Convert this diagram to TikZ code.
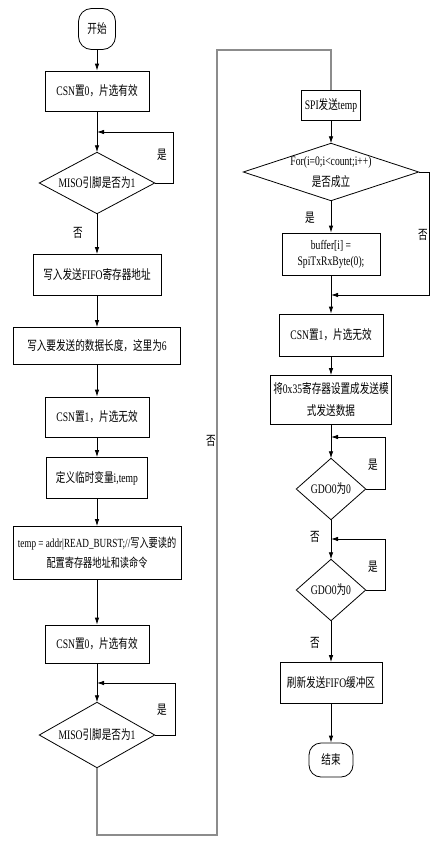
\documentclass[tikz,border=0pt]{standalone}
\usepackage{fontspec}
\setmainfont{Liberation Serif}[FakeStretch=0.74]
\newfontfamily\zhfont{Noto Sans CJK SC}[FakeStretch=0.74]
\newcommand\zh[1]{{\zhfont #1}}
\usetikzlibrary{arrows.meta}
\begin{document}
\begin{tikzpicture}[x=1pt,y=-1pt,
  every node/.style={font=\fontsize{13}{16}\selectfont, inner sep=0pt},
  boxline/.style={draw=black, line width=0.8pt},
  proc/.style={rectangle, boxline, align=center},
  term/.style={rectangle, boxline, rounded corners=13pt},
  decbox/.style={rectangle, draw=none, align=center},
  arr/.style={-{Latex[length=7pt,width=4.5pt]}, line width=0.8pt},
  grayline/.style={draw=black!45, line width=1.1pt},
  lbl/.style={}]
\useasboundingbox (0,0) rectangle (443,841);
\fill[white] (0,0) rectangle (443,841);
\newcommand\dia[1]{\draw[boxline] (#1.north) -- (#1.east) -- (#1.south) -- (#1.west) -- cycle;}

% left column
\node[term, minimum width=37pt, minimum height=41pt] (start) at (97,29) {\zh{开始}};
\node[proc, minimum width=104pt, minimum height=40pt] (b1) at (97,91) {CSN\zh{置}0\zh{，片选有效}};
\node[decbox, minimum width=115pt, minimum height=61pt] (d1) at (97,183) {MISO\zh{引脚是否为}1};
\dia{d1}
\node[proc, minimum width=128pt, minimum height=41pt] (b2) at (97,275) {\zh{写入发送}FIFO\zh{寄存器地址}};
\node[proc, minimum width=167pt, minimum height=37pt] (b3) at (97,346) {\zh{写入要发送的数据长度，这里为}6};
\node[proc, minimum width=104pt, minimum height=40pt] (b4) at (97,417) {CSN\zh{置}1\zh{，片选无效}};
\node[proc, minimum width=101pt, minimum height=41pt] (b5) at (97,478) {\zh{定义临时变量}i,temp};
\node[proc, minimum width=168pt, minimum height=53pt, font=\fontsize{12.4}{20}\selectfont] (b6) at (97,553) {temp = addr\textbar READ\_BURST;//\zh{写入要读的}\\\zh{配置寄存器地址和读命令}};
\node[proc, minimum width=104pt, minimum height=38pt] (b7) at (97,644) {CSN\zh{置}0\zh{，片选有效}};
\node[decbox, minimum width=115pt, minimum height=65pt] (d2) at (97,735) {MISO\zh{引脚是否为}1};
\dia{d2}

% right column
\node[proc, minimum width=59pt, minimum height=30pt] (b8) at (331,105) {SPI\zh{发送}temp};
\node[decbox, minimum width=175pt, minimum height=57pt, font=\fontsize{13}{21}\selectfont] (d3) at (331,172) {For(i=0;i\textless count;i++)\\\zh{是否成立}};
\dia{d3}
\node[proc, minimum width=98pt, minimum height=42pt, font=\fontsize{13}{16}\selectfont] (b9) at (331,254) {buffer[i] =\\SpiTxRxByte(0);};
\node[proc, minimum width=104pt, minimum height=42pt] (b10) at (331,335) {CSN\zh{置}1\zh{，片选无效}};
\node[proc, minimum width=121pt, minimum height=49pt, font=\fontsize{13}{22}\selectfont] (b11) at (331,400) {\zh{将}0x35\zh{寄存器设置成发送模}\\\zh{式发送数据}};
\node[decbox, minimum width=69pt, minimum height=61pt] (d4) at (331,489) {GDO0\zh{为}0};
\dia{d4}
\node[decbox, minimum width=69pt, minimum height=61pt] (d5) at (331,590) {GDO0\zh{为}0};
\dia{d5}
\node[proc, minimum width=102pt, minimum height=41pt] (b12) at (331,683) {\zh{刷新发送}FIFO\zh{缓冲区}};
\node[term, minimum width=44pt, minimum height=34pt, rounded corners=12pt] (end) at (331,760) {\zh{结束}};

% junction coordinates
\coordinate (j1) at (97,132);
\coordinate (j2) at (97,683);
\coordinate (j3) at (331,295);
\coordinate (j4) at (331,437);
\coordinate (j5) at (331,539);
\coordinate (c1) at (97,835);
\coordinate (c2) at (217,835);
\coordinate (c3) at (217,50);
\coordinate (c4) at (331,50);

% left connectors
\draw[arr] (start) -- (b1);
\draw[arr] (b1) -- (d1.north);
\draw[arr] (d1.east) -- ++(19,0) |- (j1);
\draw[arr] (d1.south) -- (b2);
\draw[arr] (b2) -- (b3);
\draw[arr] (b3) -- (b4);
\draw[arr] (b4) -- (b5);
\draw[arr] (b5) -- (b6);
\draw[arr] (b6) -- (b7);
\draw[arr] (b7) -- (d2.north);
\draw[arr] (d2.east) -- ++(21,0) |- (j2);
\draw[grayline] (d2.south) -- (c1) -- (c2) -- (c3) -- (c4) -- (b8.north);

% right connectors
\draw[arr] (b8) -- (d3.north);
\draw[arr] (d3.south) -- (b9);
\draw[arr] (d3.east) -- ++(11,0) |- (j3);
\draw[arr] (b9) -- (b10);
\draw[arr] (b10) -- (b11);
\draw[arr] (b11) -- (d4.north);
\draw[arr] (d4.east) -- ++(20,0) |- (j4);
\draw[arr] (d4.south) -- (d5.north);
\draw[arr] (d5.east) -- ++(20,0) |- (j5);
\draw[arr] (d5.south) -- (b12);
\draw[arr] (b12) -- (end);

% labels
\node[lbl] (y1) at (162,155) {\zh{是}};
\node[lbl] (n1) at (78,233) {\zh{否}};
\node[lbl] (y2) at (162,710) {\zh{是}};
\node[lbl, anchor=east] (n2) at (216,441) {\zh{否}};
\node[lbl] (y3) at (310,218) {\zh{是}};
\node[lbl] (n3) at (423,235) {\zh{否}};
\node[lbl] (y4) at (373,465) {\zh{是}};
\node[lbl] (n4) at (315,537) {\zh{否}};
\node[lbl] (y5) at (373,567) {\zh{是}};
\node[lbl] (n5) at (315,643) {\zh{否}};
\end{tikzpicture}
\end{document}
